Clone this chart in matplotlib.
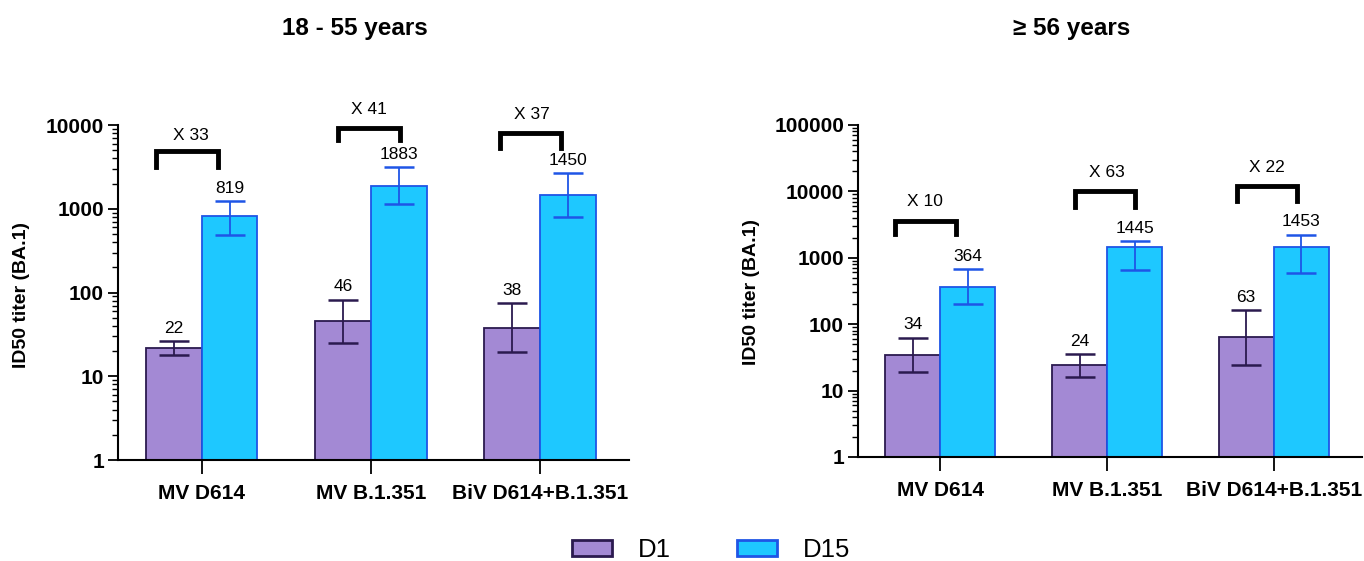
import matplotlib
matplotlib.use("Agg")
import matplotlib.pyplot as plt
from matplotlib.patches import Patch
from matplotlib.ticker import LogLocator, NullFormatter, FuncFormatter
import numpy as np

plt.rcParams['font.family'] = ['Liberation Sans', 'DejaVu Sans']

categories = ["MV D614", "MV B.1.351", "BiV D614+B.1.351"]
series = ["D1", "D15"]

# 18 - 55 years
young_d1 = [22, 46, 38]
young_d1_lo = [18.2, 24.7, 19.4]
young_d1_hi = [26.3, 82.5, 74.6]
young_d15 = [819, 1883, 1450]
young_d15_lo = [482, 1148, 792]
young_d15_hi = [1230, 3127, 2654]
young_fold = ["X 33", "X 41", "X 37"]

# >= 56 years
old_d1 = [34, 24, 63]
old_d1_lo = [19, 16.1, 24.2]
old_d1_hi = [62, 35.3, 162]
old_d15 = [364, 1445, 1453]
old_d15_lo = [202, 655, 583]
old_d15_hi = [670, 1763, 2197]
old_fold = ["X 10", "X 63", "X 22"]

titles = ["18 - 55 years", "\u2265 56 years"]
ylabel = "ID50 titer (BA.1)"

c_d1, e_d1 = "#A389D4", "#2B1A4F"
c_d15, e_d15 = "#1EC8FF", "#1F55E6"

fig = plt.figure(figsize=(13.64, 5.61), dpi=100)
ax1 = fig.add_axes([0.0865, 0.18, 0.375, 0.597])
ax2 = fig.add_axes([0.629, 0.1854, 0.3695, 0.592])

# bracket geometry (x offsets from group centre, in log10 y units)
br_young = dict(x0=[-0.27, -0.195, -0.237], x1=[0.095, 0.17, 0.124],
                ytop=[3.694, 3.97, 3.90], ybot=[3.503, 3.82, 3.73],
                tx=[-0.065, -0.01, -0.05], ty=[3.88, 4.19, 4.13])
br_old = dict(x0=[-0.275, -0.19, -0.22], x1=[0.096, 0.17, 0.14],
              ytop=[3.557, 4.0, 4.08], ybot=[3.35, 3.77, 3.86],
              tx=[-0.09, 0.0, -0.04], ty=[3.85, 4.28, 4.36])

w = 0.33
panels = [
    (ax1, young_d1, young_d1_lo, young_d1_hi, young_d15, young_d15_lo, young_d15_hi, young_fold, br_young, 1e4),
    (ax2, old_d1, old_d1_lo, old_d1_hi, old_d15, old_d15_lo, old_d15_hi, old_fold, br_old, 1e5),
]

for ax, d1, d1lo, d1hi, d15, d15lo, d15hi, fold, br, ytop in panels:
    x = np.arange(len(categories))
    ax.set_yscale('log')
    ax.bar(x - w / 2, d1, w, color=c_d1, edgecolor=e_d1, linewidth=1.3, zorder=2)
    ax.bar(x + w / 2, d15, w, color=c_d15, edgecolor=e_d15, linewidth=1.3, zorder=2)
    ax.errorbar(x - w / 2, d1, yerr=[np.array(d1) - np.array(d1lo), np.array(d1hi) - np.array(d1)],
                fmt='none', ecolor=e_d1, elinewidth=1.3, capsize=11, capthick=1.8, zorder=3)
    ax.errorbar(x + w / 2, d15, yerr=[np.array(d15) - np.array(d15lo), np.array(d15hi) - np.array(d15)],
                fmt='none', ecolor=e_d15, elinewidth=1.3, capsize=11, capthick=1.8, zorder=3)
    for i in range(len(categories)):
        ax.annotate(f"{d1[i]}", (x[i] - w / 2, d1hi[i]), xytext=(0, 4), textcoords='offset points',
                    ha='center', va='bottom', fontsize=12.5)
        ax.annotate(f"{d15[i]}", (x[i] + w / 2, d15hi[i]), xytext=(0, 4), textcoords='offset points',
                    ha='center', va='bottom', fontsize=12.5)
        xs = [x[i] + br['x0'][i], x[i] + br['x0'][i], x[i] + br['x1'][i], x[i] + br['x1'][i]]
        ys = [10 ** br['ybot'][i], 10 ** br['ytop'][i], 10 ** br['ytop'][i], 10 ** br['ybot'][i]]
        ax.plot(xs, ys, color='black', lw=3.5, solid_joinstyle='miter', clip_on=False, zorder=4)
        ax.text(x[i] + br['tx'][i], 10 ** br['ty'][i], fold[i], ha='center', va='center',
                fontsize=12.5, clip_on=False)
    ax.set_ylim(1, ytop)
    ax.set_xlim(-0.495, 2.53)
    ax.set_xticks(x)
    ax.set_xticklabels(categories, fontsize=15, fontweight='bold')
    ax.tick_params(axis='x', length=10, width=1.3, pad=7)
    ax.yaxis.set_major_locator(LogLocator(base=10, numticks=10))
    ax.yaxis.set_minor_locator(LogLocator(base=10, subs=np.arange(2, 10), numticks=20))
    ax.yaxis.set_minor_formatter(NullFormatter())
    ax.yaxis.set_major_formatter(FuncFormatter(lambda v, p: f"{int(round(v))}"))
    ax.tick_params(axis='y', which='major', length=7, width=1.3, labelsize=15, pad=3)
    ax.tick_params(axis='y', which='minor', length=4, width=1.0)
    for lab in ax.get_yticklabels():
        lab.set_fontweight('bold')
    ax.spines['top'].set_visible(False)
    ax.spines['right'].set_visible(False)
    ax.spines['left'].set_linewidth(1.5)
    ax.spines['bottom'].set_linewidth(1.5)

fig.text(22 / 1364, 1 - 295 / 561, ylabel, rotation=90, ha='center', va='center',
         fontsize=14, fontweight='bold')
fig.text(752 / 1364, 1 - 292 / 561, ylabel, rotation=90, ha='center', va='center',
         fontsize=14, fontweight='bold')

fig.text(355 / 1364, 1 - 28 / 561, titles[0], ha='center', va='center', fontsize=17.5, fontweight='bold')
fig.text(1072 / 1364, 1 - 28 / 561, titles[1], ha='center', va='center', fontsize=17.5, fontweight='bold')

handles = [Patch(facecolor=c_d1, edgecolor=e_d1, linewidth=2),
           Patch(facecolor=c_d15, edgecolor=e_d15, linewidth=2)]
fig.legend(handles, series, loc='center', bbox_to_anchor=(711 / 1364, 1 - 550 / 561), ncol=2,
           frameon=False, fontsize=18.5, handlelength=1.55, handleheight=0.55, columnspacing=2.6,
           handletextpad=1.0, borderpad=0.1)

fig.savefig("out.png", dpi=100)
